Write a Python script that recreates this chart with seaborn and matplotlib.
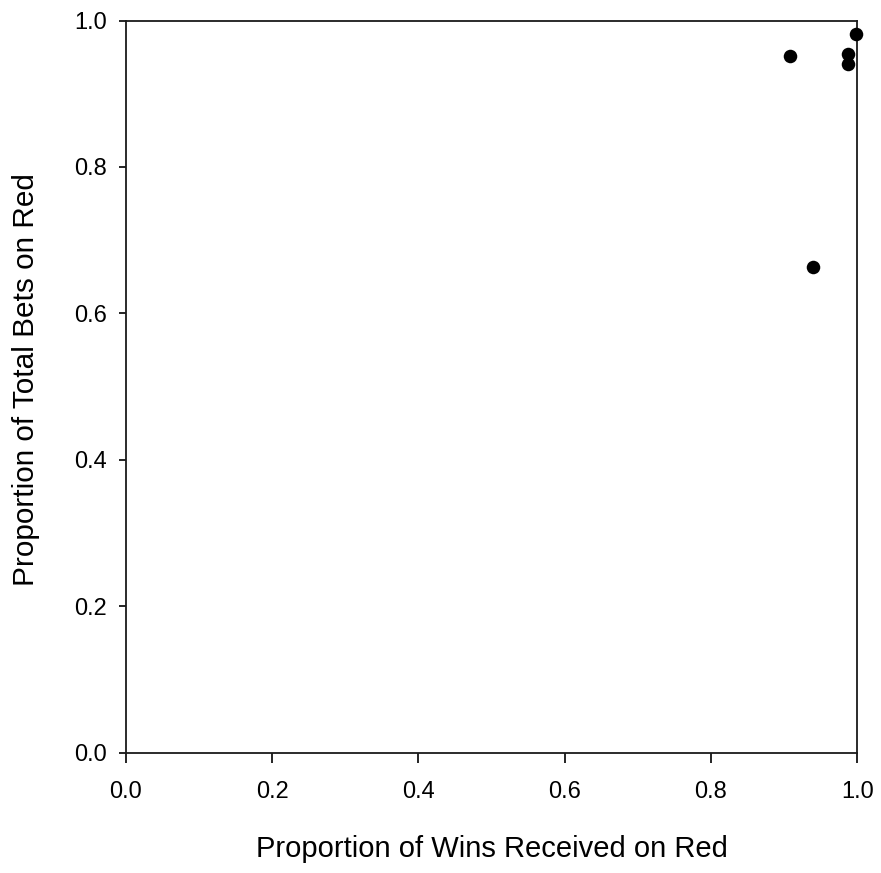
import matplotlib
matplotlib.use("Agg")
import matplotlib.pyplot as plt
import seaborn as sns
import pandas as pd

wins_red = [0.998, 0.908, 0.988, 0.988, 0.939]
bets_red = [0.982, 0.952, 0.954, 0.941, 0.663]

df = pd.DataFrame({"wins": wins_red, "bets": bets_red})

sns.set_style("ticks")
plt.rcParams['font.family'] = ['Liberation Sans', 'DejaVu Sans']
plt.rcParams['text.color'] = 'black'
plt.rcParams['axes.labelcolor'] = 'black'
plt.rcParams['xtick.color'] = 'black'
plt.rcParams['ytick.color'] = 'black'

fig = plt.figure(figsize=(8.81, 8.73), dpi=100)
ax = fig.add_axes([0.143, 0.138, 0.830, 0.8385])
sns.scatterplot(data=df, x="wins", y="bets", ax=ax, color="black", s=95,
                edgecolor="black", linewidth=0, clip_on=False, zorder=3)
ax.set_xlim(0, 1.0)
ax.set_ylim(0, 1.0)
ticks = [0.0, 0.2, 0.4, 0.6, 0.8, 1.0]
ax.set_xticks(ticks)
ax.set_yticks(ticks)
ax.set_xticklabels([f"{t:.1f}" for t in ticks])
ax.set_yticklabels([f"{t:.1f}" for t in ticks])
ax.tick_params(axis='x', labelsize=17, length=7.2, width=1.2, color='black',
               direction='out', pad=13.5, top=False, labelcolor='black')
ax.tick_params(axis='y', labelsize=17, length=5, width=1.2, color='black',
               direction='out', pad=9, right=False, labelcolor='black')
for sp in ax.spines.values():
    sp.set_color('#1a1a1a')
    sp.set_linewidth(1.3)
ax.set_xlabel("Proportion of Wins Received on Red", fontsize=21, color='black')
ax.set_ylabel("Proportion of Total Bets on Red", fontsize=21.4, color='black')
ax.xaxis.set_label_coords(0.5, -0.113)
ax.yaxis.set_label_coords(-0.118, 0.509)
fig.savefig("out.png", dpi=100)
